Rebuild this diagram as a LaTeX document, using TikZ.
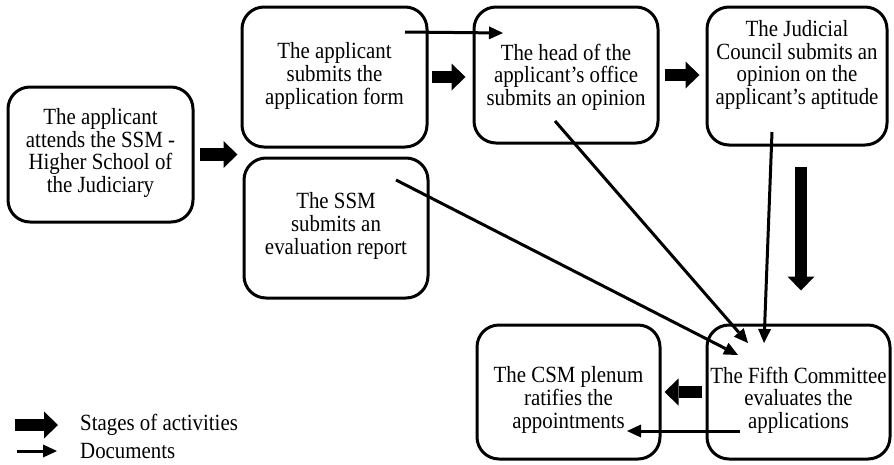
\documentclass[tikz,border=0pt]{standalone}
\usepackage{fontspec}
\setmainfont{Liberation Serif}
\newfontfamily\tfont[FakeStretch=0.9]{Liberation Serif}
\usetikzlibrary{arrows.meta,calc}
\begin{document}
\begin{tikzpicture}[x=1pt,y=-1pt,
  box/.style={draw, line width=3pt, rounded corners=22pt, inner sep=0pt},
  txt/.style={align=center, inner sep=0pt, font=\tfont\fontsize{23.2}{22.6}\selectfont},
  stage/.style={line width=12.5pt, -{Triangle[length=14pt,width=27pt,line width=0pt]}},
  doc/.style={line width=3pt, -{Triangle[length=14pt,width=13pt,line width=0pt]}},
  lbl/.style={anchor=west, inner sep=0pt, font=\tfont\fontsize{23.2}{22.6}\selectfont}]
\useasboundingbox (0,0) rectangle (894,464);
% boxes
\node[box, minimum width=185pt, minimum height=135pt] (b1) at (100.5,154.5) {};
\node[box, minimum width=185pt, minimum height=140pt] (b2) at (334.5,77) {};
\node[box, minimum width=184pt, minimum height=140pt] (b3) at (336,228) {};
\node[box, minimum width=184pt, minimum height=136pt] (b4) at (566,75) {};
\node[box, minimum width=180pt, minimum height=138pt] (b5) at (797,76) {};
\node[box, minimum width=183pt, minimum height=134pt] (b6) at (568.5,392) {};
\node[box, minimum width=183pt, minimum height=134pt] (b7) at (798.5,392) {};
% texts
\node[txt] (t1) at (100.5,153) {The applicant\\attends the SSM -\\Higher School of\\the Judiciary};
\node[txt] (t2) at (334.5,76) {The applicant\\submits the\\application form};
\node[txt] (t3) at (336,226) {The SSM\\submits an\\evaluation report};
\node[txt] (t4) at (566,77) {The head of the\\applicant’s office\\submits an opinion};
\node[txt] (t5) at (797,65) {The Judicial\\Council submits an\\opinion on the\\applicant’s aptitude};
\node[txt] (t6) at (568.5,400) {The CSM plenum\\ratifies the\\appointments};
\node[txt] (t7) at (798.5,400) {The Fifth Committee\\evaluates the\\applications};
% stage arrows
\draw[stage, shorten <=5pt, shorten >=3pt] (b1.east) -- (b1.east -| b2.west);
\draw[stage, shorten <=3pt, shorten >=7pt] (b2.east) -- (b2.east -| b4.west);
\draw[stage, shorten <=5pt, shorten >=6pt] (b4.east) -- (b4.east -| b5.west);
\draw[stage, shorten <=20pt, shorten >=33pt] ([xshift=4pt]b5.south) -- ([xshift=4pt]b5.south |- b7.north);
\draw[stage, shorten <=4pt, shorten >=3pt] (b7.west) -- (b7.west -| b6.east);
% document arrows
\coordinate (d1s) at (405,32);  \coordinate (d1e) at (503,33);
\coordinate (d2s) at (396,180); \coordinate (d2e) at (738,355);
\coordinate (d3s) at (555,121); \coordinate (d3e) at (748,343);
\coordinate (d4s) at (772,132); \coordinate (d4e) at (764,343);
\coordinate (d5s) at (740,431); \coordinate (d5e) at (627,431);
\draw[doc] (d1s) -- (d1e);
\draw[doc] (d2s) -- (d2e);
\draw[doc] (d3s) -- (d3e);
\draw[doc] (d4s) -- (d4e);
\draw[doc] (d5s) -- (d5e);
% legend
\coordinate (l1s) at (15,425); \coordinate (l1e) at (58,425);
\coordinate (l2s) at (17,451); \coordinate (l2e) at (57,451);
\draw[stage] (l1s) -- (l1e);
\draw[doc] (l2s) -- (l2e);
\node[lbl] (lt1) at (80,425) {Stages of activities};
\node[lbl] (lt2) at (80,451) {Documents};
\end{tikzpicture}
\end{document}
